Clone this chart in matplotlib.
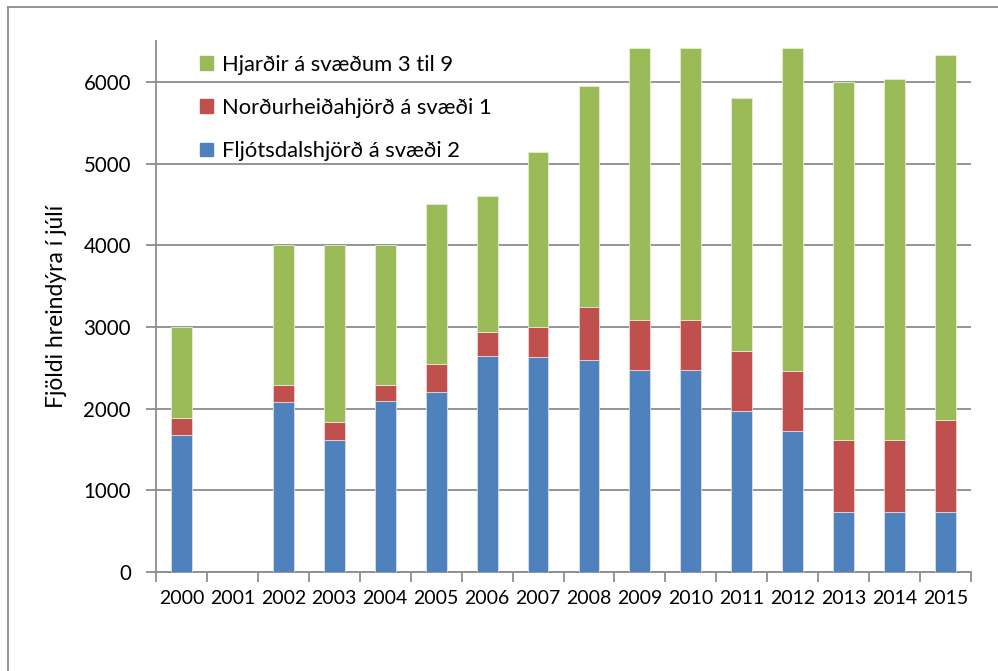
import matplotlib
matplotlib.use('Agg')
import matplotlib.pyplot as plt
import numpy as np
from matplotlib.lines import Line2D
from matplotlib.patches import Patch

plt.rcParams['font.family'] = ['Lato', 'DejaVu Sans']

years = ['2000', '2001', '2002', '2003', '2004', '2005', '2006', '2007',
         '2008', '2009', '2010', '2011', '2012', '2013', '2014', '2015']
# Fljótsdalshjörð á svæði 2
fljotsdal = [1680, 0, 2075, 1615, 2090, 2200, 2640, 2630,
             2600, 2470, 2470, 1970, 1720, 740, 740, 740]
# Norðurheiðahjörð á svæði 1
nordurheid = [210, 0, 215, 225, 200, 350, 295, 370,
              650, 610, 610, 740, 740, 880, 880, 1120]
# Hjarðir á svæðum 3 til 9
hjardir = [1110, 0, 1710, 2160, 1710, 1950, 1665, 2140,
           2700, 3340, 3340, 3090, 3950, 4380, 4415, 4470]

blue = '#4F81BD'
red = '#C0504D'
green = '#9BBB59'
grid_col = '#8c8c8c'

fig = plt.figure(figsize=(9.98, 6.71), dpi=100)
ax = fig.add_axes([156 / 998, 1 - 572 / 671, 815 / 998, 531 / 671])

x = np.arange(len(years))
w = 0.41
b1 = np.array(fljotsdal)
b2 = b1 + np.array(nordurheid)
ax.bar(x, fljotsdal, w, color=blue, edgecolor='#d6e0ee', linewidth=0.6, zorder=3)
ax.bar(x, nordurheid, w, bottom=b1, color=red, edgecolor='#eed6d5', linewidth=0.6, zorder=3)
ax.bar(x, hjardir, w, bottom=b2, color=green, edgecolor='#e4edd4', linewidth=0.6, zorder=3)

ax.set_xlim(-0.5, len(years) - 0.5)
ax.set_ylim(0, 6500)
ax.set_yticks(np.arange(0, 7000, 1000))
ax.yaxis.grid(True, color=grid_col, linewidth=1.3, zorder=0)
ax.set_axisbelow(True)

for s in ['top', 'right']:
    ax.spines[s].set_visible(False)
for s in ['left', 'bottom']:
    ax.spines[s].set_color(grid_col)
    ax.spines[s].set_linewidth(1.3)

ax.set_xticks(x)
ax.set_xticklabels(years)
ax.set_xticks(np.arange(-0.5, len(years)), minor=True)
ax.tick_params(axis='x', which='major', length=0, pad=13, labelsize=14)
ax.tick_params(axis='x', which='minor', length=7, width=1.3, color=grid_col, direction='out')
ax.tick_params(axis='y', length=7, width=1.3, color=grid_col, pad=11, labelsize=14.8)

ax.set_ylabel('Fjöldi hreindýra í júlí', fontsize=16.5, labelpad=12)

handles = [Patch(color=green), Patch(color=red), Patch(color=blue)]
labels = ['Hjarðir á svæðum 3 til 9', 'Norðurheiðahjörð á svæði 1', 'Fljótsdalshjörð á svæði 2']
fig.legend(handles, labels, loc='upper left', bbox_to_anchor=(200 / 998, 1 - 55 / 671),
           frameon=False, fontsize=15.8, handlelength=0.58, handleheight=0.58,
           handletextpad=0.42, labelspacing=1.05, borderpad=0, borderaxespad=0)

# outer chart frame (partly cropped in the original)
fig.add_artist(Line2D([8 / 998, 1.0], [1 - 7 / 671, 1 - 7 / 671], transform=fig.transFigure,
                      color=grid_col, linewidth=1.3))
fig.add_artist(Line2D([8 / 998, 8 / 998], [0, 1 - 7 / 671], transform=fig.transFigure,
                      color=grid_col, linewidth=1.3))

fig.savefig('out.png', dpi=100)
